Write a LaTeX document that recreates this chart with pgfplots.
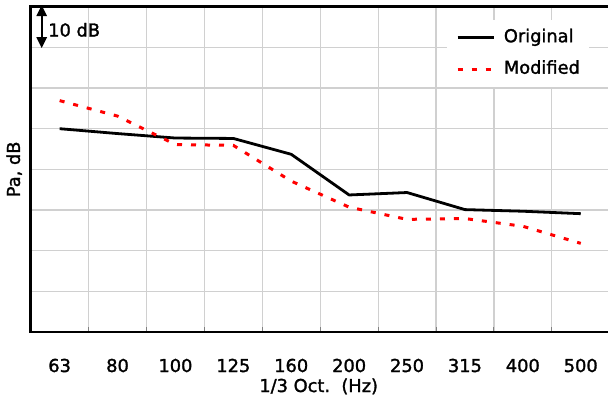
\documentclass[border=0pt]{standalone}
\usepackage{pgfplots}
\pgfplotsset{compat=1.18}
\usepackage{fontspec}
\setmainfont{DejaVu Sans}[FakeBold=1.6]
\usetikzlibrary{arrows.meta}
\definecolor{gridgray}{RGB}{208,208,208}
\begin{document}
\begin{tikzpicture}[font=\fontsize{17.8}{21}\selectfont]
\useasboundingbox (-30.7pt,-67pt) rectangle (577.3pt,332pt);
\begin{axis}[
  scale only axis,
  width=579pt, height=325.3pt,
  anchor=south west, at={(0,0)},
  xmin=-0.5, xmax=9.5, ymin=0, ymax=80,
  clip=false,
  axis line style={line width=2.5pt, black},
  xtick={0,...,9},
  xticklabels={63,80,100,125,160,200,250,315,400,500},
  xticklabel style={anchor=base, yshift=-40pt},
  minor xtick={0.5,1.5,...,8.5},
  xminorgrids=true,
  xmajorgrids=false,
  ytick={10,20,...,70},
  yticklabels={},
  ymajorgrids=true,
  major tick length=0pt,
  minor tick length=5pt,
  tick align=inside,
  xtick pos=bottom,
  ytick pos=left,
  minor tick style={gray, line width=1pt},
  major grid style={gridgray, line width=1.2pt},
  minor grid style={gridgray, line width=1.2pt},
  xlabel={1/3 Oct.\ \ (Hz)},
  every axis x label/.style={at={(axis description cs:0.5,0)}, anchor=base, yshift=-60pt, xshift=-1.5pt},
  ylabel={Pa, dB},
  every axis y label/.style={at={(rel axis cs:-0.0285,0.5)}, rotate=90, anchor=center},
  legend style={at={(rel axis cs:0.719,0.959)}, anchor=north west, draw=none, fill=white,
    inner sep=9pt, row sep=14.5pt, column sep=8.7pt,
    font=\fontsize{17.8}{21}\selectfont,
    nodes={inner sep=0pt, text height=13pt, text depth=4pt},
    cells={anchor=west}},
  legend image code/.code={\draw[#1] (0pt,0pt) -- (36pt,0pt);},
]
\addplot[black, line width=2.8pt, line join=round] coordinates {
  (0,50.0) (1,48.8) (2,47.7) (3,47.6) (4,43.7) (5,33.7) (6,34.3) (7,30.1) (8,29.7) (9,29.1)
};
\addlegendentry{Original}
\addplot[red, line width=3pt, dash pattern=on 5pt off 9pt] coordinates {
  (0,56.9) (1,53.1) (2,46.1) (3,45.9) (4,37.1) (5,30.7) (6,27.7) (7,27.9) (8,26.0) (9,21.8)
};
\addlegendentry{Modified}
\draw[line width=2.4pt, {Triangle[width=10pt,length=11pt]}-{Triangle[width=10pt,length=11pt]}] (axis cs:-0.31,80.4) -- (axis cs:-0.31,69.8);
\node[anchor=base west, inner sep=0pt] at (rel axis cs:0.030,0.9084) {10 dB};
\end{axis}
\end{tikzpicture}
\end{document}
